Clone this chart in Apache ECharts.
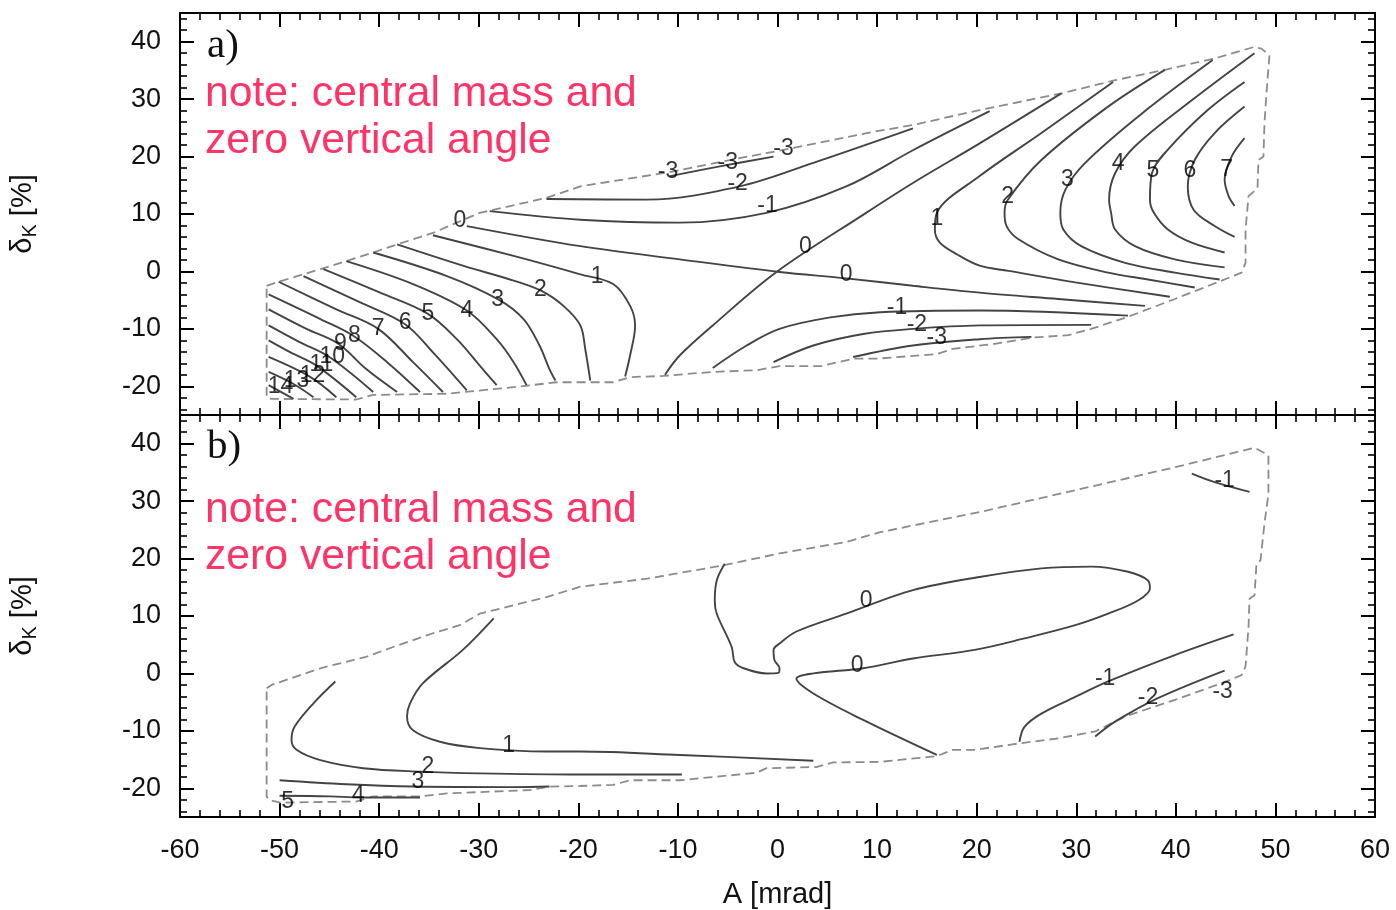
<!DOCTYPE html>
<html>
<head>
<meta charset="utf-8">
<script src="https://cdn.jsdelivr.net/npm/echarts@6/dist/echarts.min.js"></script>
<style>
  html, body { margin: 0; padding: 0; background: #ffffff; }
  #chart { width: 1396px; height: 910px; }
</style>
</head>
<body>
<div id="chart"></div>
<script>
// ---- axis ranges and ticks ----
const X_MIN = -60, X_MAX = 60, X_STEP = 10;
const Y_MIN = -25, Y_MAX = 45;
const yMajorTicks = [-20, -10, 0, 10, 20, 30, 40];
const yMinorTicks = [-24, -22, -18, -16, -14, -12, -8, -6, -4, -2, 2, 4, 6, 8,
                     12, 14, 16, 18, 22, 24, 26, 28, 32, 34, 36, 38, 42, 44];

// ---- panel a): boundary of the accepted region (A [mrad], deltaK [%]) ----
const boundaryA = [
  [-51.3,-2.5],[-50.1,-1.8],[-45.9,0.4],[-43.3,1.8],[-40.6,3.3],[-38.2,4.7],[-34.6,6.7],[-32.2,8.5],
  [-29.9,10.2],[-23.2,12.8],[-19.8,14.8],[-10.5,17.4],[-4.8,19.4],[1.6,21.5],[9.6,24.3],[13.6,25.5],
  [20.3,28.1],[28.5,31.0],[33.9,33.3],[38.9,35.1],[43.9,37.1],[47.9,39.1],[48.6,38.8],[49.4,37.6],
  [49.1,31.0],[48.9,25.8],[48.8,20.0],[48.3,19.4],[48.2,14.5],[47.3,13.1],[47.0,7.3],[47.0,1.5],
  [46.6,-0.2],[44.6,-1.6],[39.9,-4.8],[35.2,-7.9],[31.5,-10.0],[29.2,-11.1],[25.8,-11.5],[21.8,-12.6],
  [17.6,-13.5],[16.0,-14.4],[9.9,-15.2],[7.6,-15.2],[4.3,-16.5],[0.2,-16.5],[-2.1,-17.2],[-6.5,-17.5],
  [-11.5,-18.2],[-14.8,-18.4],[-16.5,-19.3],[-22.2,-19.3],[-26.2,-20.1],[-33.2,-21.3],[-40.6,-21.5],
  [-42.3,-22.3],[-50.8,-22.2],[-51.3,-21.9],[-51.3,-2.5]
];

// panel a): contour lines as [level, points]
const contoursA = [
  [14, [[-51.1,-19.8],[-48.6,-22.2]]],
  [13, [[-51.1,-17.5],[-48.6,-19.6],[-46.6,-21.9]]],
  [12, [[-51.1,-14.9],[-46.9,-18.4],[-44.3,-21.9]]],
  [11, [[-51.1,-12.0],[-48.9,-14.1],[-46.3,-16.4],[-42.3,-21.9]]],
  [10, [[-51.1,-9.4],[-48.0,-12.3],[-45.0,-14.9],[-40.6,-21.0]]],
  [9,  [[-51.1,-6.6],[-47.3,-10.0],[-44.1,-12.6],[-41.3,-17.0],[-38.2,-21.0]]],
  [8,  [[-51.1,-4.0],[-45.9,-8.3],[-42.6,-11.2],[-39.2,-15.8],[-35.9,-21.0]]],
  [7,  [[-50.1,-1.8],[-44.3,-6.6],[-40.1,-10.0],[-36.6,-15.8],[-33.6,-21.0]]],
  [6,  [[-47.6,-0.8],[-41.9,-5.4],[-37.4,-9.2],[-34.6,-14.1],[-31.2,-20.7]]],
  [5,  [[-45.6,0.4],[-39.9,-3.7],[-35.1,-7.4],[-32.2,-11.8],[-29.9,-16.4],[-28.2,-19.8]]],
  [4,  [[-43.3,1.8],[-36.6,-2.2],[-31.2,-6.8],[-28.2,-11.8],[-26.5,-15.8],[-25.2,-19.8]]],
  [3,  [[-40.6,3.3],[-33.2,-0.8],[-28.0,-4.9],[-25.5,-8.3],[-23.9,-12.9],[-22.9,-17.0],[-22.3,-19.0]]],
  [2,  [[-38.2,4.7],[-31.6,1.0],[-26.5,-1.6],[-23.7,-3.4],[-21.5,-6.0],[-19.8,-9.4],[-19.3,-13.6],[-18.8,-19.0]]],
  [1,  [[-34.6,6.3],[-26.5,2.7],[-19.8,-0.5],[-16.5,-2.2],[-14.8,-6.0],[-14.3,-9.4],[-14.8,-14.6],[-15.3,-18.3]]],
  [0,  [[-31.2,7.9],[-19.8,4.4],[-9.8,2.1],[0.2,-0.1],[6.9,-1.2],[13.6,-2.5],[20.3,-3.7],[28.2,-4.8],[36.9,-6.0]]],
  [0,  [[-11.3,-18.0],[-9.8,-14.6],[-6.5,-9.4],[-0.1,-0.1],[8.9,10.2],[13.6,15.4],[20.3,22.3],[28.5,31.0]]],
  [-1, [[-28.9,10.5],[-19.8,9.0],[-9.8,8.5],[-1.1,10.2],[6.9,14.8],[13.6,21.1],[21.3,27.9]]],
  [-2, [[-23.2,12.6],[-13.1,12.5],[-3.8,14.8],[3.6,18.9],[13.6,24.9]]],
  [-3, [[-10.8,16.6],[-5.8,18.3],[-0.4,20.0]]],
  [-1, [[-6.5,-16.8],[-3.1,-12.9],[0.2,-10.0],[5.3,-8.0],[10.3,-7.1],[20.3,-6.8],[35.2,-7.7]]],
  [-2, [[-0.4,-15.8],[3.6,-12.9],[8.6,-10.9],[13.6,-10.0],[20.3,-9.4],[31.5,-9.3]]],
  [-3, [[7.6,-14.9],[13.6,-12.9],[20.3,-11.8],[25.5,-11.4]]],
  [1,  [[33.7,33.0],[26.5,24.1],[20.3,16.6],[16.0,10.2],[15.8,7.3],[16.3,5.0],[18.0,3.0],[20.3,1.0],[23.2,0.1],[29.9,-1.9],[39.4,-4.4]]],
  [2,  [[38.9,35.1],[33.2,28.7],[26.5,19.4],[23.1,12.4],[22.8,10.2],[23.0,7.9],[24.2,5.6],[28.2,2.1],[33.2,-0.2],[37.2,-1.4],[41.9,-2.8]]],
  [3,  [[43.7,36.8],[36.6,27.5],[30.9,18.9],[28.9,14.2],[28.4,10.2],[28.7,7.3],[30.5,4.4],[34.9,1.5],[39.9,-0.2],[44.4,-1.4]]],
  [4,  [[47.9,38.0],[41.6,29.8],[35.9,21.8],[33.9,17.1],[33.3,12.5],[33.5,10.2],[33.9,7.3],[35.9,4.4],[39.9,2.1],[44.9,0.7]]],
  [5,  [[46.9,33.0],[43.2,28.1],[39.2,21.2],[37.6,17.1],[37.4,12.5],[37.8,10.2],[39.2,7.3],[41.6,5.0],[44.9,3.3]]],
  [6,  [[46.9,28.7],[43.9,24.1],[41.9,19.4],[41.2,14.8],[41.8,10.7],[43.9,7.9],[45.9,6.0]]],
  [7,  [[46.9,23.2],[45.6,20.0],[44.9,16.0],[45.3,13.1],[45.9,11.4]]]
];

// panel a): inline level labels [A, deltaK, level]
const labelsA = [
  [-49.9,-20.0,14],[-48.3,-19.1,13],[-46.7,-18.1,12],[-45.8,-16.3,11],[-44.7,-14.9,10],
  [-43.9,-12.6,9],[-42.5,-11.1,8],[-40.1,-9.9,7],[-37.4,-9.0,6],[-35.1,-7.3,5],[-31.2,-6.9,4],
  [-28.1,-4.9,3],[-23.8,-3.2,2],[-18.1,-0.9,1],[-31.9,8.8,0],[-11.0,17.3,-3],[-5.0,19.0,-3],
  [0.6,21.3,-3],[-4.0,15.2,-2],[-1.0,11.4,-1],[2.8,4.3,0],[6.9,-0.6,0],[16.0,9.2,1],
  [23.1,13.0,2],[29.1,15.9,3],[34.2,18.7,4],[37.7,17.6,5],[41.4,17.6,6],[45.1,17.8,7],
  [12.0,-6.3,-1],[14.0,-9.2,-2],[16.0,-11.6,-3]
];

// ---- panel b) ----
const boundaryB = [
  [-51.3,-2.6],[-50.8,-2.0],[-45.9,0.9],[-41.3,2.9],[-38.6,4.6],[-34.6,7.0],[-31.9,8.4],[-29.9,10.4],
  [-23.2,13.3],[-19.8,15.1],[-13.1,16.5],[-5.5,18.8],[0.2,20.9],[6.9,22.9],[10.3,24.6],[20.3,28.1],
  [29.9,31.9],[39.9,35.9],[47.9,39.3],[49.3,38.0],[49.3,31.3],[48.9,26.1],[48.5,19.7],[48.1,19.1],
  [47.9,13.6],[47.4,13.0],[47.3,8.1],[47.0,1.2],[46.6,-0.3],[44.6,-1.7],[39.9,-4.6],[34.9,-7.5],
  [31.9,-10.1],[28.2,-11.3],[24.2,-12.2],[19.8,-13.3],[17.6,-13.3],[16.0,-14.4],[10.3,-15.4],
  [5.6,-15.5],[3.9,-16.3],[-1.1,-16.5],[-2.1,-17.3],[-9.8,-18.6],[-14.8,-18.6],[-16.5,-19.4],
  [-19.8,-19.6],[-22.8,-19.7],[-24.8,-20.3],[-33.2,-20.9],[-35.9,-21.4],[-40.6,-21.4],[-42.3,-22.3],
  [-49.9,-22.5],[-51.1,-22.0],[-51.3,-21.4],[-51.3,-2.6]
];

const contoursB = [
  [1,  [[-28.5,9.6],[-31.6,4.1],[-35.6,-1.7],[-36.9,-5.2],[-37.2,-7.5],[-36.6,-9.9],[-33.9,-11.9],
        [-29.9,-13.0],[-23.2,-13.6],[-19.8,-13.6],[-9.8,-14.2],[3.6,-15.2]]],
  [2,  [[-44.4,-1.4],[-46.6,-5.2],[-48.5,-9.3],[-48.8,-11.6],[-48.3,-13.3],[-45.9,-15.1],[-41.6,-16.5],
        [-35.9,-17.1],[-29.9,-17.4],[-19.8,-17.6],[-9.6,-17.6]]],
  [3,  [[-50.0,-18.6],[-43.3,-19.3],[-36.6,-19.7],[-26.5,-19.8],[-22.9,-19.7]]],
  [4,  [[-50.0,-21.3],[-44.9,-21.4],[-41.9,-21.6],[-35.9,-21.6]]],
  [0,  [[-5.3,19.1],[-6.1,16.2],[-6.3,12.7],[-6.1,10.4],[-4.6,4.6],[-4.3,2.0],[-3.4,0.9],[-1.1,0.0],
        [0.1,0.1],[0.2,0.9],[-0.3,2.3],[-0.4,4.1],[0.2,5.2],[1.9,7.3],[6.9,10.4],[13.6,14.5],[20.3,16.8],
        [26.5,18.3],[31.5,18.6],[35.2,17.7],[37.2,16.2],[37.4,14.8],[36.2,12.7],[33.2,10.4],[29.9,8.4],
        [24.8,6.1],[19.8,4.1],[13.6,2.6],[8.6,0.9],[3.6,0.0],[1.9,-0.9],[3.6,-3.5],[8.6,-8.1],[16.0,-14.2]]],
  [-1, [[41.6,34.8],[43.9,33.3],[47.4,31.6]]],
  [-1, [[24.3,-11.9],[24.8,-9.3],[26.5,-7.0],[29.9,-4.1],[33.2,-1.4],[39.9,3.2],[45.8,6.8]]],
  [-2, [[31.9,-11.0],[33.9,-8.4],[38.2,-4.3],[44.9,0.5]]]
];

const labelsB = [
  [8.9,12.7,0],[8.0,1.4,0],[-27.0,-12.5,1],[-35.1,-16.2,2],[-36.1,-18.8,3],[-42.1,-21.2,4],
  [-49.2,-22.4,5],[44.9,33.6,-1],[32.9,-0.9,-1],[37.2,-4.3,-2],[44.7,-3.2,-3]
];

// ---- styling ----
const SANS = '"Liberation Sans", Arial, Helvetica, sans-serif';
const SERIF = '"Liberation Serif", "Times New Roman", serif';
const INK = '#111111';
const CONTOUR = '#444444';
const EDGE = '#8c8c8c';
const NOTE = '#ff3366';

const grids = [
  { left: 180, right: 21, top: 13, height: 402 },
  { left: 180, right: 21, top: 415, height: 403 }
];

function xAxisFor(gridIndex, position, withLabels) {
  const ax = {
    type: 'value', gridIndex, position, min: X_MIN, max: X_MAX, interval: X_STEP,
    axisLine: { show: true, onZero: false, lineStyle: { color: '#000', width: 2 } },
    axisTick: { show: true, inside: true, length: 14, lineStyle: { color: '#000', width: 2 } },
    minorTick: { show: true, splitNumber: 5, length: 7, lineStyle: { color: '#000', width: 1.6 } },
    splitLine: { show: false },
    axisLabel: { show: withLabels, margin: 20, fontSize: 27, color: INK, fontFamily: SANS }
  };
  if (withLabels) {
    ax.name = 'A [mrad]';
    ax.nameLocation = 'middle';
    ax.nameGap = 63;
    ax.nameTextStyle = { fontSize: 29, color: INK, fontFamily: SANS };
  }
  return ax;
}

function yAxesFor(gridIndex) {
  const base = {
    type: 'value', gridIndex, min: Y_MIN, max: Y_MAX,
    splitLine: { show: false }
  };
  const name = '{d|δ}{s|K}{d| [%]}';
  return [
    Object.assign({}, base, {
      position: 'left',
      axisLine: { show: true, onZero: false, lineStyle: { color: '#000', width: 2 } },
      axisTick: { show: true, inside: true, length: 14, customValues: yMajorTicks, lineStyle: { color: '#000', width: 2 } },
      axisLabel: { show: true, customValues: yMajorTicks, margin: 19, fontSize: 27, color: INK, fontFamily: SANS },
      name: name, nameLocation: 'middle', nameGap: 140,
      nameTextStyle: {
        fontFamily: SANS, color: INK,
        rich: {
          d: { fontSize: 29, fontFamily: SANS, color: INK, lineHeight: 34, verticalAlign: 'middle' },
          s: { fontSize: 20, fontFamily: SANS, color: INK, lineHeight: 34, verticalAlign: 'bottom', padding: [10, 0, 0, 0] }
        }
      }
    }),
    Object.assign({}, base, {
      position: 'left',
      axisLine: { show: false, onZero: false },
      axisTick: { show: true, inside: true, length: 7, customValues: yMinorTicks, lineStyle: { color: '#000', width: 1.6 } },
      axisLabel: { show: false }
    }),
    Object.assign({}, base, {
      position: 'right',
      axisLine: { show: true, onZero: false, lineStyle: { color: '#000', width: 2 } },
      axisTick: { show: true, inside: true, length: 14, customValues: yMajorTicks, lineStyle: { color: '#000', width: 2 } },
      axisLabel: { show: false }
    }),
    Object.assign({}, base, {
      position: 'right',
      axisLine: { show: false, onZero: false },
      axisTick: { show: true, inside: true, length: 7, customValues: yMinorTicks, lineStyle: { color: '#000', width: 1.6 } },
      axisLabel: { show: false }
    })
  ];
}

function panelSeries(boundary, contours, labels, xi, yi) {
  const out = [];
  out.push({
    type: 'line', xAxisIndex: xi, yAxisIndex: yi, data: boundary,
    showSymbol: false, symbol: 'none', smooth: false, silent: true, z: 2,
    lineStyle: { color: EDGE, width: 1.8, type: [9, 5] }
  });
  contours.forEach(function (c) {
    out.push({
      type: 'line', xAxisIndex: xi, yAxisIndex: yi, data: c[1],
      showSymbol: false, symbol: 'none', smooth: 0.35, silent: true, z: 3,
      lineStyle: { color: CONTOUR, width: 1.9 }
    });
  });
  out.push({
    type: 'scatter', xAxisIndex: xi, yAxisIndex: yi, data: labels,
    symbolSize: 1, itemStyle: { color: 'rgba(0,0,0,0)' }, silent: true, z: 5,
    label: {
      show: true, position: 'inside', fontSize: 23, color: '#000', fontFamily: SANS,
      formatter: function (p) { return String(p.value[2]); }
    }
  });
  return out;
}

const chart = echarts.init(document.getElementById('chart'), null, { renderer: 'canvas' });

const yA = yAxesFor(0);
const yB = yAxesFor(1);

chart.setOption({
  animation: false,
  backgroundColor: '#ffffff',
  grid: grids,
  xAxis: [
    xAxisFor(0, 'bottom', false),
    xAxisFor(0, 'top', false),
    xAxisFor(1, 'bottom', true),
    xAxisFor(1, 'top', false)
  ],
  yAxis: yA.concat(yB),
  series: panelSeries(boundaryA, contoursA, labelsA, 0, 0)
    .concat(panelSeries(boundaryB, contoursB, labelsB, 2, 4)),
  graphic: [
    { type: 'text', x: 207, y: 46, style: { text: 'a)', font: '41px ' + SERIF, fill: INK, align: 'left', verticalAlign: 'middle' } },
    { type: 'text', x: 207, y: 447, style: { text: 'b)', font: '41px ' + SERIF, fill: INK, align: 'left', verticalAlign: 'middle' } },
    { type: 'text', x: 205, y: 94, style: { text: 'note: central mass and', font: '42.7px ' + SANS, fill: NOTE, align: 'left', verticalAlign: 'middle' } },
    { type: 'text', x: 205, y: 141, style: { text: 'zero vertical angle', font: '42.7px ' + SANS, fill: NOTE, align: 'left', verticalAlign: 'middle' } },
    { type: 'text', x: 205, y: 510, style: { text: 'note: central mass and', font: '42.7px ' + SANS, fill: NOTE, align: 'left', verticalAlign: 'middle' } },
    { type: 'text', x: 205, y: 557, style: { text: 'zero vertical angle', font: '42.7px ' + SANS, fill: NOTE, align: 'left', verticalAlign: 'middle' } }
  ]
});
</script>
</body>
</html>
